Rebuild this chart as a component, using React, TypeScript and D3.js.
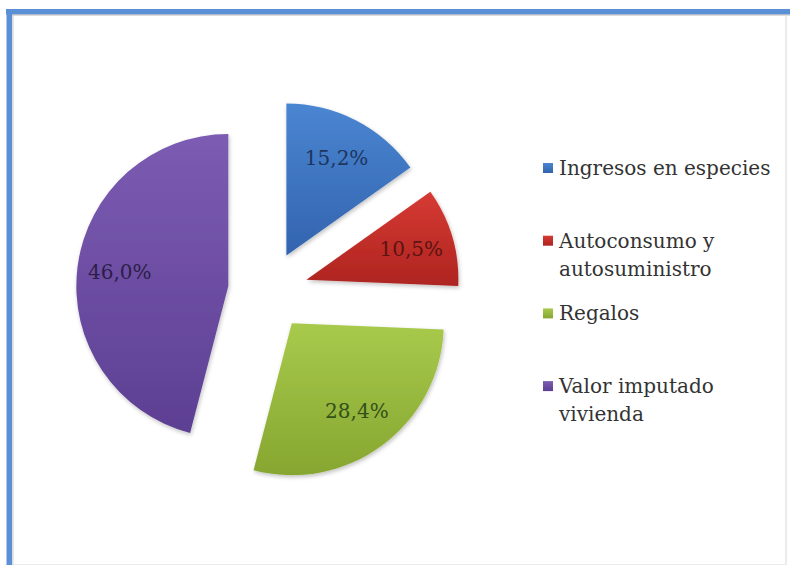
import React, { useEffect } from "react";
import * as d3 from "d3";

const categories = ["Ingresos en especies", "Autoconsumo y autosuministro", "Regalos", "Valor imputado vivienda"];
const legendLines = [["Ingresos en especies"], ["Autoconsumo y", "autosuministro"], ["Regalos"], ["Valor imputado", "vivienda"]];
const values = [15.2, 10.5, 28.4, 46.0];
const valueLabels = ["15,2%", "10,5%", "28,4%", "46,0%"];
const colorsTop = ["#4A86D2", "#D63A33", "#A8CA4C", "#7C5CB3"];
const colorsBottom = ["#3363AE", "#AE2420", "#86A630", "#5C3F92"];
const labelColors = ["#1E3560", "#5A1412", "#34501A", "#2C1E48"];

const W = 790;
const H = 565;
const cx = 268;
const cy = 291;
const R = 152;
const explode = 40;
const FONT = "'DejaVu Serif', serif";

export default function App() {
  useEffect(() => {
    document.body.style.margin = "0";
  }, []);

  const pie = d3.pie<number>().sort(null).value((d) => d)(values);
  const arc = d3.arc<d3.PieArcDatum<number>>().innerRadius(0).outerRadius(R);
  const labelArc = d3.arc<d3.PieArcDatum<number>>().innerRadius(R * 0.72).outerRadius(R * 0.72);

  const legendX = 543;
  const legendY0 = 175;
  const legendStep = 72.7;
  const lineH = 28;

  return (
    <svg width={W} height={H} style={{ position: "absolute", left: 0, top: 0, background: "#fff", fontFamily: FONT }}>
      <defs>
        {colorsTop.map((c, i) => (
          <linearGradient key={i} id={`g${i}`} x1="0" y1="0" x2="0" y2="1">
            <stop offset="0%" stopColor={c} />
            <stop offset="100%" stopColor={colorsBottom[i]} />
          </linearGradient>
        ))}
        <filter id="sh" x="-20%" y="-20%" width="140%" height="140%">
          <feGaussianBlur in="SourceAlpha" stdDeviation="2" />
          <feOffset dx="1" dy="2" result="b" />
          <feComponentTransfer>
            <feFuncA type="linear" slope="0.25" />
          </feComponentTransfer>
          <feMerge>
            <feMergeNode />
            <feMergeNode in="SourceGraphic" />
          </feMerge>
        </filter>
      </defs>
      <rect x={0} y={0} width={W} height={H} fill="#fff" />
      <rect x={12} y={14} width={774} height={H - 14} fill="none" stroke="#e4e4e4" strokeWidth={1.5} />
      <rect x={6} y={9} width={W - 6} height={5.5} fill="#5B8FD6" />
      <rect x={6.5} y={9} width={5.5} height={H - 9} fill="#5B8FD6" />
      <line x1={12} y1={15} x2={W} y2={15} stroke="#b9b9b9" strokeWidth={1} />
      <line x1={13} y1={15} x2={13} y2={H} stroke="#d0d0d0" strokeWidth={1} />
      <line x1={786} y1={15} x2={786} y2={H} stroke="#ececec" strokeWidth={1} />

      <g transform={`translate(${cx},${cy})`}>
        {pie.map((p, i) => {
          const mid = (p.startAngle + p.endAngle) / 2;
          const dx = explode * Math.sin(mid);
          const dy = -explode * Math.cos(mid);
          const [lx, ly] = labelArc.centroid(p);
          return (
            <g key={categories[i]} transform={`translate(${dx},${dy})`}>
              <path d={arc(p) || ""} fill={`url(#g${i})`} filter="url(#sh)" />
              <text
                x={lx}
                y={ly}
                textAnchor="middle"
                dominantBaseline="central"
                style={{ fontFamily: FONT, fontSize: 20 }}
                fill={labelColors[i]}
              >
                {valueLabels[i]}
              </text>
            </g>
          );
        })}
      </g>

      <g>
        {legendLines.map((lines, i) => {
          const y = legendY0 + i * legendStep;
          return (
            <g key={i}>
              <rect x={legendX} y={y - 12} width={10} height={10} fill={`url(#g${i})`} />
              {lines.map((t, j) => (
                <text
                  key={j}
                  x={legendX + 16}
                  y={y + j * lineH}
                  style={{ fontFamily: FONT, fontSize: 20 }}
                  fill="#333333"
                >
                  {t}
                </text>
              ))}
            </g>
          );
        })}
      </g>
    </svg>
  );
}
